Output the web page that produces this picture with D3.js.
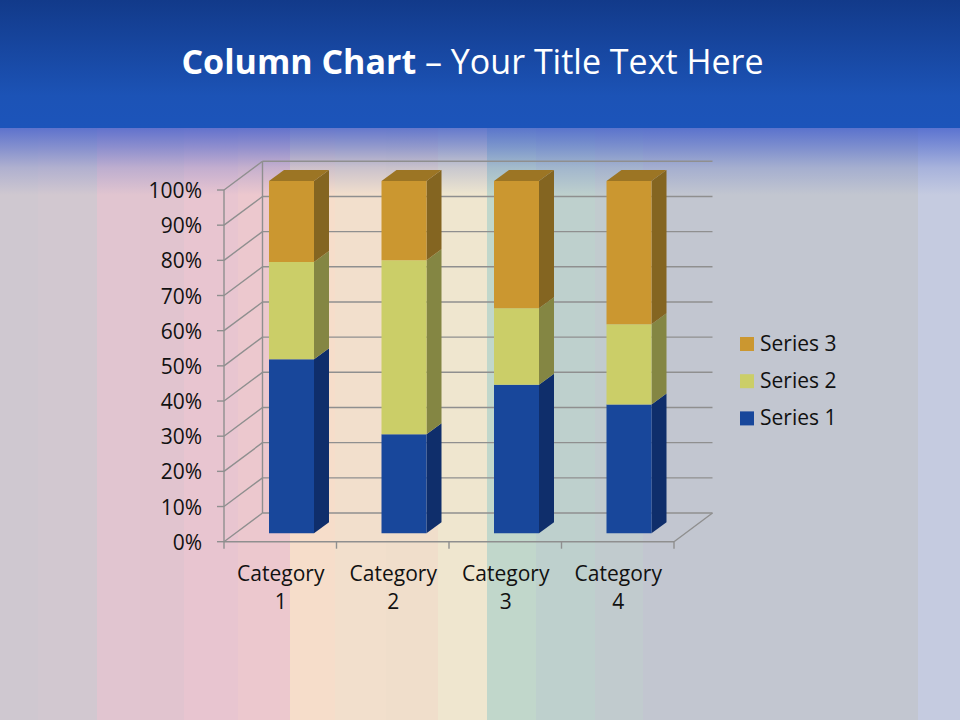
<!DOCTYPE html>
<html><head><meta charset="utf-8">
<script src="https://cdn.jsdelivr.net/npm/d3@7"></script>
<style>html,body{margin:0;padding:0;background:#c4c8d4}svg{display:block}text{font-family:"Open Sans",sans-serif}</style>
</head><body><svg id="c" width="960" height="720"></svg>
<script>
const categories=["Category 1","Category 2","Category 3","Category 4"];
const seriesNames=["Series 1","Series 2","Series 3"];
const series1=[4.3,2.5,3.5,4.5];
const series2=[2.4,4.4,1.8,2.8];
const series3=[2,2,3,5];
const yTicks=[0,.1,.2,.3,.4,.5,.6,.7,.8,.9,1];
const seriesFront=["#18479b","#cbce68","#cb9730"];
const seriesSide=["#0f2e6b","#848643","#846521"];
const seriesTop=["#123778","#9c9f50","#9c7524"];
const stripeStops=[[0,"#cfc8d0"],[38,"#d2c8d0"],[97,"#e1c5d0"],[140,"#e1c4cf"],[184,"#e8c5d0"],[238,"#ecc8ce"],[290,"#f6ddca"],[335,"#f2dfcc"],[386,"#f0decb"],[438,"#efe6cf"],[487,"#c1d7cb"],[536,"#bed0cd"],[595,"#c1cbce"],[643,"#c2c6d0"],[860,"#c2c6d0"],[918,"#c5cbe0"],[960,"#c5cbe0"]];

const svg=d3.select("#c"),defs=svg.append("defs");
const W=960,H=720;
const g1=defs.append("linearGradient").attr("id","stripes");
stripeStops.forEach((s,i)=>{
  g1.append("stop").attr("offset",s[0]/W).attr("stop-color",i?stripeStops[i-1][1]:s[1]);
  g1.append("stop").attr("offset",s[0]/W).attr("stop-color",s[1]);
});
svg.append("rect").attr("width",W).attr("height",H).attr("fill","url(#stripes)");
const g2=defs.append("linearGradient").attr("id","fade").attr("x2",0).attr("y2",1);
[[0,.8],[.3,.52],[.6,.22],[1,0]].forEach(s=>g2.append("stop").attr("offset",s[0]).attr("stop-color","#3f5ccc").attr("stop-opacity",s[1]));
svg.append("rect").attr("y",127).attr("width",W).attr("height",68).attr("fill","url(#fade)");
const g3=defs.append("linearGradient").attr("id","head").attr("x2",0).attr("y2",1);
[[0,"#123a8a"],[.75,"#1c53b6"],[.98,"#1c54ba"],[1,"#1c54ba"]].forEach(s=>g3.append("stop").attr("offset",s[0]).attr("stop-color",s[1]));
svg.append("rect").attr("width",W).attr("height",128).attr("fill","url(#head)");

const title=svg.append("text").attr("x",472.5).attr("y",74).attr("text-anchor","middle").attr("fill","#fff").attr("font-size",34);
title.append("tspan").attr("font-weight",700).text("Column Chart");
title.append("tspan").text(" – Your Title Text Here");

const dx=38.5,dy=-28.7,barDx=15,barDy=-11;
const y=d3.scaleLinear().domain([0,1]).range([541.7,190]);
const x=d3.scaleBand().domain(categories).range([224,674]).paddingInner(0).paddingOuter(0);
const gridCol="#8f8f8f";
const line=(a,b,c,d,w=1.4)=>svg.append("line").attr("x1",a).attr("y1",b).attr("x2",c).attr("y2",d).attr("stroke",gridCol).attr("stroke-width",w);
yTicks.forEach(t=>{
  line(224,y(t),224+dx,y(t)+dy);
  line(224+dx,y(t)+dy,674+dx,y(t)+dy);
  line(217,y(t),224,y(t));
  svg.append("text").attr("x",202).attr("y",y(t)+8).attr("text-anchor","end").attr("font-size",21).attr("fill","#111").text(d3.format(".0%")(t));
});
line(224,y(0),224,y(1));
line(224+dx,y(0)+dy,224+dx,y(1)+dy);
line(224,y(0),674,y(0));
line(674,y(0),674+dx,y(0)+dy);
[...categories.map(c=>x(c)),674].forEach(v=>line(v,y(0),v,y(0)+7));

const table=categories.map((c,i)=>({c,s0:series1[i],s1:series2[i],s2:series3[i]}));
const stack=d3.stack().keys(["s0","s1","s2"]).offset(d3.stackOffsetExpand)(table);
const yBar=d3.scaleLinear().domain([0,1]).range([533.3,181]);
const barW=45;
const bx=c=>x(c)+x.bandwidth()/2-11.25;
const poly=(pts,f)=>svg.append("polygon").attr("points",pts.map(p=>p.join(",")).join(" ")).attr("fill",f);
stack.forEach((layer,si)=>layer.forEach(d=>{
  const c=d.data.c,l=bx(c),r=l+barW,t=yBar(d[1]),b=yBar(d[0]);
  poly([[r,b],[r+barDx,b+barDy],[r+barDx,t+barDy],[r,t]],seriesSide[si]);
  poly([[l,b],[r,b],[r,t],[l,t]],seriesFront[si]);
  if(si===2) poly([[l,t],[r,t],[r+barDx,t+barDy],[l+barDx,t+barDy]],seriesTop[si]);
}));

categories.forEach(c=>{
  const [a,b]=c.split(" ");
  const cx=x(c)+x.bandwidth()/2+.5;
  svg.append("text").attr("x",cx).attr("y",580.5).attr("text-anchor","middle").attr("font-size",21).attr("fill","#111").text(a);
  svg.append("text").attr("x",cx).attr("y",608.5).attr("text-anchor","middle").attr("font-size",21).attr("fill","#111").text(b);
});
[2,1,0].forEach((si,i)=>{
  const ly=344+i*37.2;
  svg.append("rect").attr("x",740).attr("y",ly-7).attr("width",14).attr("height",14).attr("fill",seriesFront[si]);
  svg.append("text").attr("x",760).attr("y",ly+7).attr("font-size",21).attr("fill","#111").text(seriesNames[si]);
});
</script></body></html>
